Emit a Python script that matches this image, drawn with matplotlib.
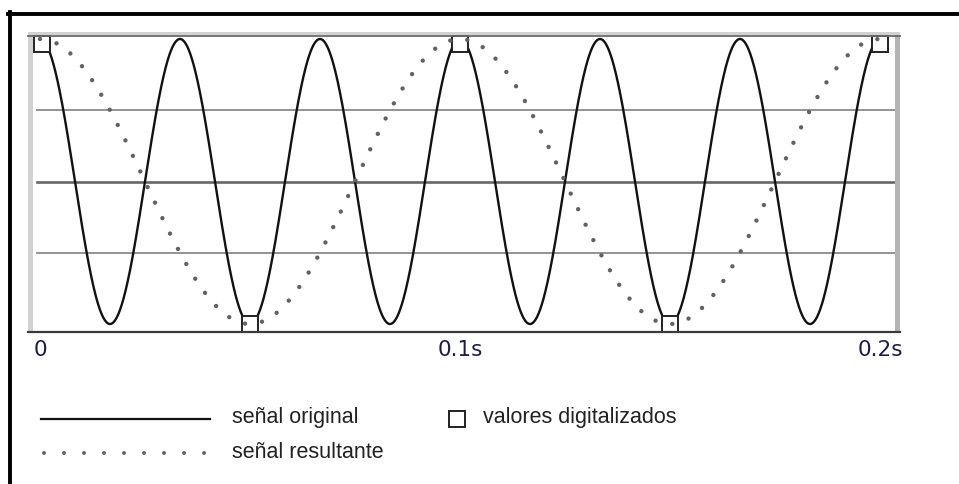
import numpy as np
import matplotlib
matplotlib.use("Agg")
import matplotlib.pyplot as plt
from matplotlib.lines import Line2D
from matplotlib.patches import Rectangle

# ---- data ----
f_original = 30.0          # Hz, solid curve: 6 cycles in 0.2 s
f_resultant = 10.0         # Hz, dotted curve: 2 cycles in 0.2 s
t_end = 0.2                # s
sample_times = [0.0, 0.05, 0.1, 0.15, 0.2]
sample_values = [1.0, -1.0, 1.0, -1.0, 1.0]
tick_positions = [0.0, 0.1, 0.2]
tick_labels = ["0", "0.1s", "0.2s"]
legend_labels = ["señal original", "señal resultante", "valores digitalizados"]

W, H = 959, 484
fig = plt.figure(figsize=(W / 100, H / 100), dpi=100)
fig.patch.set_facecolor("white")


def fx(x):
    return x / W


def fy(y):
    return 1 - y / H


# plot area in pixels
L, R, T, B = 33, 895, 35, 332
ax = fig.add_axes([fx(L), fy(B), (R - L) / W, (B - T) / H])
ax.set_facecolor("white")
for s in ax.spines.values():
    s.set_visible(False)

px_per_s = 4200.0
x0_px = 40.0
ax.set_xlim(-(x0_px - L) / px_per_s, t_end + (R - (x0_px + t_end * px_per_s)) / px_per_s)
py = 142.5
ax.set_ylim(-1 - (B - 324) / py, 1 + (39 - T) / py)

# grid lines
ax.axhline(0.5, color="#8a8a8a", lw=1.3, xmin=0.005, zorder=1)
ax.axhline(0.0, color="#666666", lw=1.9, xmin=0.005, zorder=1)
ax.axhline(-0.5, color="#8a8a8a", lw=1.3, xmin=0.005, zorder=1)

# curves
t = np.linspace(0, t_end, 3000)
ax.plot(t, np.cos(2 * np.pi * f_original * t), color="#111111", lw=1.7, zorder=3)

# digitised samples (square markers kept inside the plot area)
msize_px = 17.0
ms_pt = 11.2
disp = ax.transData.transform(np.column_stack([sample_times, sample_values]))
bb = ax.bbox
half = msize_px / 2
disp[:, 0] = np.clip(disp[:, 0], bb.x0 + half, bb.x1 - half)
disp[:, 1] = np.clip(disp[:, 1], bb.y0 + half, bb.y1 - half)
pts = ax.transData.inverted().transform(disp)
ax.plot(pts[:, 0], pts[:, 1], ls="none", marker="s", ms=ms_pt,
        mfc="white", mec="#222222", mew=1.4, zorder=4, clip_on=False)

lw_dot = 3.2
dot_col = "#626262"
ax.plot(t, np.cos(2 * np.pi * f_resultant * t), color=dot_col, lw=lw_dot,
        ls=(0, (0.001, 12.4 / lw_dot)), dash_capstyle="round", zorder=5)

# ticks
ax.set_xticks(tick_positions)
ax.set_xticklabels(tick_labels, fontfamily="DejaVu Sans", fontsize=15.5, color="#1c1c4a")
ax.tick_params(axis="x", length=0, pad=6)
ax.set_yticks([])

# plot frame (3D-like window border)
fig.add_artist(Rectangle((fx(28), fy(332)), 5 / W, 300 / H, transform=fig.transFigure,
                         color="#d2d2d2", lw=0, zorder=0))
fig.add_artist(Rectangle((fx(895), fy(332)), 5 / W, 300 / H, transform=fig.transFigure,
                         color="#b4b4b4", lw=0, zorder=0))
fig.add_artist(Rectangle((fx(28), fy(35)), 872 / W, 3 / H, transform=fig.transFigure,
                         color="#d2d2d2", lw=0, zorder=0))
fig.add_artist(Line2D([fx(28), fx(900)], [fy(35.5), fy(35.5)], color="#6a6a6a", lw=1.3))
fig.add_artist(Line2D([fx(28), fx(900)], [fy(332), fy(332)], color="#3a3a3a", lw=1.6))

# outer black frame
fig.add_artist(Line2D([fx(8), fx(W)], [fy(13.5), fy(13.5)], color="black", lw=2.8))
fig.add_artist(Line2D([fx(10), fx(10)], [fy(12), fy(H)], color="black", lw=2.8))

# legend
fig.add_artist(Line2D([fx(41), fx(210)], [fy(419), fy(419)], color="#111111", lw=1.6))
fig.add_artist(Line2D([fx(44), fx(210)], [fy(453), fy(453)], color=dot_col, lw=lw_dot * 0.9,
                      ls=(0, (0.001, 14.4 / (lw_dot * 0.9))), dash_capstyle="round"))
fig.add_artist(Line2D([fx(456.5)], [fy(419)], ls="none", marker="s", ms=ms_pt,
                      mfc="white", mec="#222222", mew=1.4))
tkw = dict(fontfamily="Liberation Sans", fontsize=15.5, color="#222222", va="center",
           ha="left", transform=fig.transFigure)
fig.text(fx(232), fy(418), legend_labels[0], **tkw)
fig.text(fx(232), fy(452), legend_labels[1], **tkw)
fig.text(fx(483), fy(418), legend_labels[2], **tkw)

fig.savefig("out.png", dpi=100, facecolor="white")
